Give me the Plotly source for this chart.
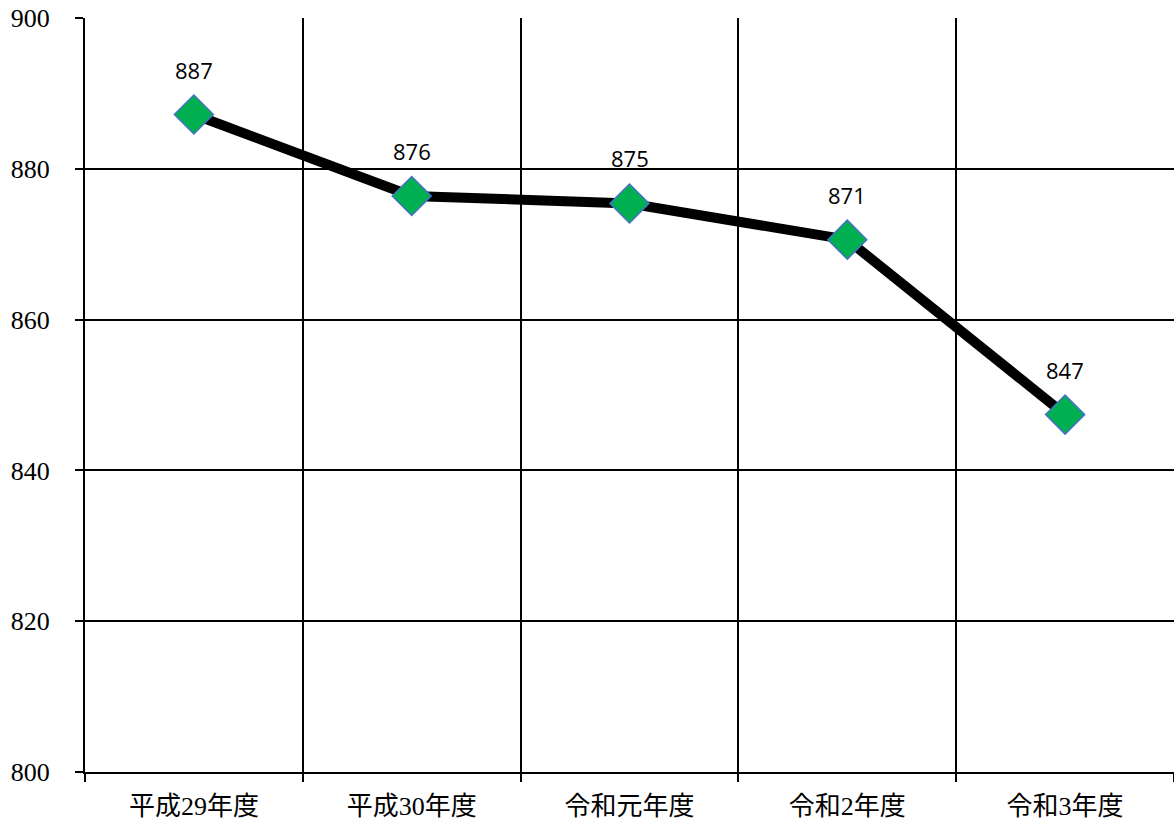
import plotly.graph_objects as go

categories = ["平成29年度", "平成30年度", "令和元年度", "令和2年度", "令和3年度"]
values = [887.2, 876.4, 875.4, 870.6, 847.4]
y_ticks = [800, 820, 840, 860, 880, 900]

fig = go.Figure()
fig.add_trace(go.Scatter(
    x=categories, y=values,
    mode="lines+markers",
    line=dict(color="black", width=10),
    marker=dict(symbol="diamond", size=30, color="#00B050",
                line=dict(color="#4472C4", width=1.5)),
    cliponaxis=False,
    showlegend=False,
    hoverinfo="skip",
))

for c, v in zip(categories, values):
    fig.add_annotation(
        x=c, y=v, text=f"{v:.0f}", showarrow=False, yshift=45,
        font=dict(family="Open Sans", size=22, color="black"),
    )

fig.update_layout(
    width=1174, height=821,
    margin=dict(l=85, r=0, t=18, b=49),
    paper_bgcolor="white", plot_bgcolor="white",
    xaxis=dict(
        type="category",
        automargin=False,
        tickson="boundaries",
        showgrid=True, gridcolor="black", gridwidth=1.5,
        ticks="outside", ticklen=8, tickcolor="black", tickwidth=1.5,
        showline=True, linecolor="black", linewidth=2,
        tickfont=dict(family="Liberation Serif, Noto Sans CJK JP", size=26, color="black"),
        ticklabelstandoff=10,
        range=[-0.5, 4.5],
        ticklabeloverflow="allow",
    ),
    yaxis=dict(
        automargin=False,
        range=[800, 900],
        tickvals=y_ticks,
        showgrid=True, gridcolor="black", gridwidth=1.5,
        ticks="outside", ticklen=8, tickcolor="black", tickwidth=1.5,
        showline=True, linecolor="black", linewidth=2,
        tickfont=dict(family="Liberation Serif", size=26, color="black"),
        ticklabelstandoff=20,
        ticklabeloverflow="allow",
        zeroline=False,
    ),
)

fig.write_html(
    "out.html",
    config={"displayModeBar": False},
    post_script="document.body.style.margin='0';document.body.style.overflow='hidden';",
)
